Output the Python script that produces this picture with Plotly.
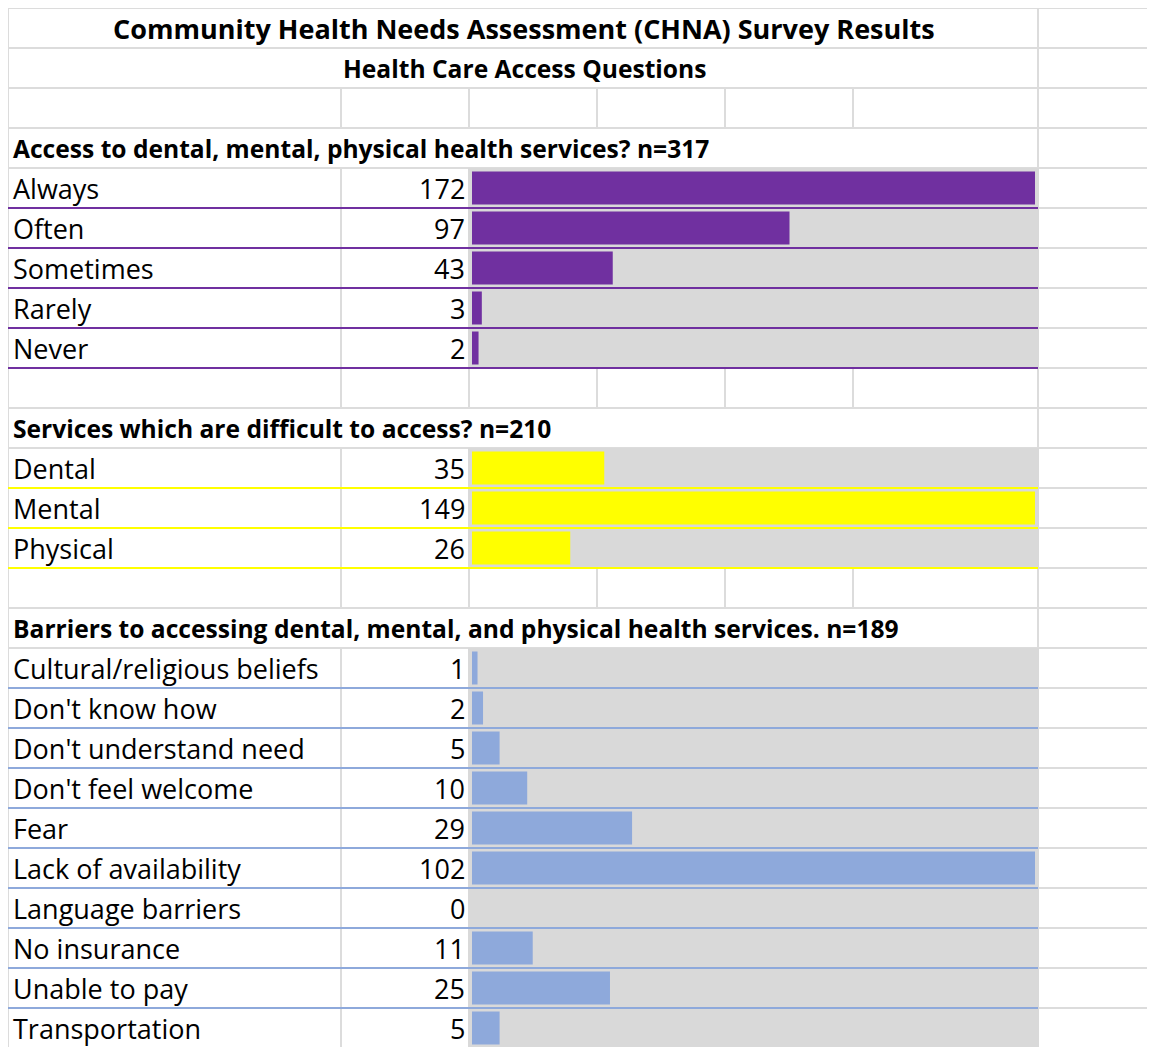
import plotly.graph_objects as go

# ---------------- data ----------------
title = "Community Health Needs Assessment (CHNA) Survey Results"
subtitle = "Health Care Access Questions"

q1_title = "Access to dental, mental, physical health services? n=317"
q1_labels = ["Always", "Often", "Sometimes", "Rarely", "Never"]
q1_values = [172, 97, 43, 3, 2]

q2_title = "Services which are difficult to access? n=210"
q2_labels = ["Dental", "Mental", "Physical"]
q2_values = [35, 149, 26]

q3_title = "Barriers to accessing dental, mental, and physical health services. n=189"
q3_labels = ["Cultural/religious beliefs", "Don't know how", "Don't understand need",
             "Don't feel welcome", "Fear", "Lack of availability", "Language barriers",
             "No insurance", "Unable to pay", "Transportation"]
q3_values = [1, 2, 5, 10, 29, 102, 0, 11, 25, 5]

colors = ["#7030A0", "#FFFF00", "#8EA9DB"]
sections = [(q1_title, q1_labels, q1_values),
            (q2_title, q2_labels, q2_values),
            (q3_title, q3_labels, q3_values)]

# ---------------- layout geometry (figure pixels; page adds an 8px body margin) ----------------
W, H = 1147, 1039
ROW_H = 40
N_ROWS = 26
FONT = "Open Sans"
GRID = "#DCDCDC"
FILL = "#D9D9D9"
BODY_SIZE = 27
BOLD_SIZE = 24.6
TITLE_SIZE = 27

col_edges = [0, 333, 461, 589, 717, 845, 1030]
bar_x0, bar_x1 = 464, 1027
fill_x0, fill_x1 = 460, 1031
label_x, value_x = 3, 459


def px(x):
    return x / W


# y axis in row units: row r spans pixels 40r .. 40r+40
y_top = (0 - ROW_H / 2) / ROW_H
y_bot = (H - ROW_H / 2) / ROW_H

fig = go.Figure()
shapes = []
annotations = []

merged_rows = {0, 1}
empty_rows = {2}
data_rows = {}
header_rows = []

row = 3
for si, (stitle, labels, values) in enumerate(sections):
    header_rows.append((row, stitle))
    merged_rows.add(row)
    rows = [row + 1 + i for i in range(len(labels))]
    for r in rows:
        data_rows[r] = si
    axis_name = "x" if si == 0 else f"x{si + 1}"
    fig.add_trace(go.Bar(
        x=values, y=rows, orientation="h", width=0.825,
        marker=dict(color=colors[si], line=dict(width=0)),
        xaxis=axis_name, yaxis="y", hoverinfo="skip", showlegend=False,
    ))
    for r, lab, v in zip(rows, labels, values):
        annotations.append(dict(x=px(label_x), y=r, xref="paper", yref="y", text=lab,
                                xanchor="left", yanchor="middle", yshift=0, showarrow=False,
                                font=dict(family=FONT, size=BODY_SIZE, color="#000000")))
        annotations.append(dict(x=px(value_x), y=r, xref="paper", yref="y", text=str(v),
                                xanchor="right", yanchor="middle", yshift=0, showarrow=False,
                                font=dict(family=FONT, size=BODY_SIZE, color="#000000")))
    row = rows[-1] + 1
    if si < len(sections) - 1:
        empty_rows.add(row)
        row += 1

# ---- gridlines (grey) ----
for r in range(N_ROWS + 1):
    yb = r - 0.5
    shapes.append(dict(type="line", xref="paper", yref="y", x0=px(0), x1=1.0, y0=yb, y1=yb,
                       line=dict(color=GRID, width=2), layer="below"))
for r in range(N_ROWS):
    edges = [0, 1030] if r in merged_rows else col_edges
    for xe in edges:
        shapes.append(dict(type="line", xref="paper", yref="y", x0=px(xe), x1=px(xe),
                           y0=r - 0.5, y1=r + 0.5, line=dict(color=GRID, width=2), layer="below"))

# ---- grey cell fill behind data bars ----
for r in data_rows:
    shapes.append(dict(type="rect", xref="paper", yref="y", x0=px(fill_x0), x1=px(fill_x1),
                       y0=r - 0.5, y1=r + 0.5, fillcolor=FILL, line=dict(width=0), layer="below"))

# ---- coloured bottom borders of data rows ----
for r, si in data_rows.items():
    shapes.append(dict(type="line", xref="paper", yref="y", x0=px(0), x1=px(1030),
                       y0=r + 0.5, y1=r + 0.5, line=dict(color=colors[si], width=2), layer="below"))

# ---- titles and headers ----
annotations.append(dict(x=px(516), y=0, xref="paper", yref="y", text=title,
                        xanchor="center", yanchor="middle", yshift=0, showarrow=False,
                        font=dict(family=FONT, size=TITLE_SIZE, color="#000000", weight="bold")))
annotations.append(dict(x=px(516), y=1, xref="paper", yref="y", text=subtitle,
                        xanchor="center", yanchor="middle", yshift=0, showarrow=False,
                        font=dict(family=FONT, size=BOLD_SIZE, color="#000000", weight="bold")))
for r, t in header_rows:
    annotations.append(dict(x=px(label_x), y=r, xref="paper", yref="y", text=t,
                            xanchor="left", yanchor="middle", yshift=0, showarrow=False,
                            font=dict(family=FONT, size=BOLD_SIZE, color="#000000", weight="bold")))

axis_common = dict(domain=[px(bar_x0), px(bar_x1)], visible=False, fixedrange=True)
fig.update_layout(
    width=W, height=H,
    margin=dict(l=0, r=0, t=0, b=0),
    paper_bgcolor="#FFFFFF", plot_bgcolor="rgba(0,0,0,0)",
    barmode="overlay",
    xaxis=dict(range=[0, max(q1_values)], anchor="y", **axis_common),
    xaxis2=dict(range=[0, max(q2_values)], anchor="y", overlaying="x", **axis_common),
    xaxis3=dict(range=[0, max(q3_values)], anchor="y", overlaying="x", **axis_common),
    yaxis=dict(range=[y_bot, y_top], domain=[0, 1], visible=False, fixedrange=True),
    shapes=shapes,
    annotations=annotations,
)

fig.write_html("out.html")
